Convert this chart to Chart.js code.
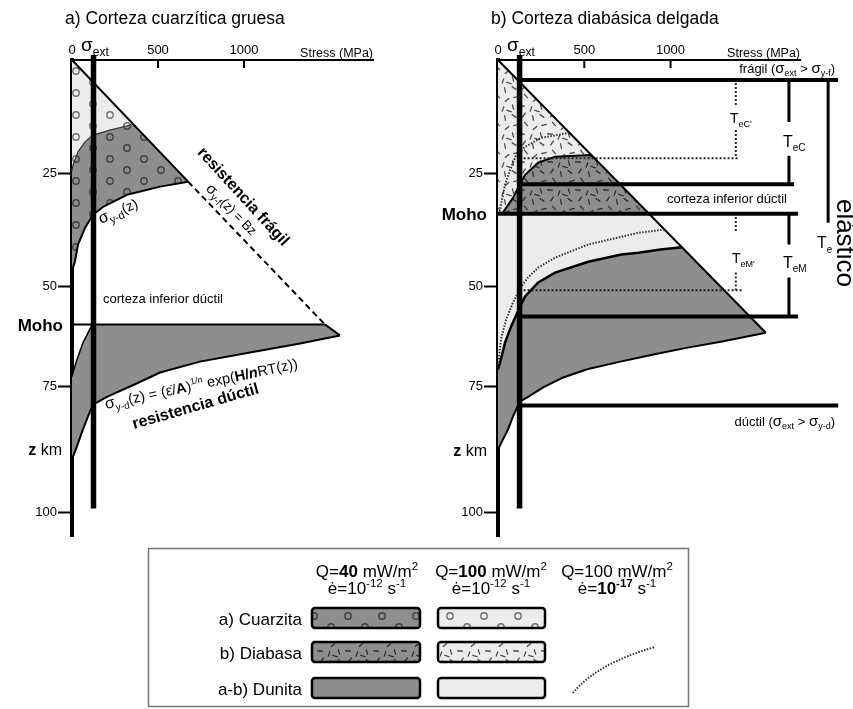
<!DOCTYPE html>
<html><head><meta charset="utf-8">
<script src="https://cdn.jsdelivr.net/npm/chart.js@4.4.1/dist/chart.umd.min.js"></script>
<style>
html,body{margin:0;padding:0;background:#fff;width:853px;height:709px;overflow:hidden}
canvas{position:absolute;display:block}
#ca{left:0;top:0}#cb{left:426px;top:0}#cl{left:0;top:545px}
</style></head><body>
<canvas id="ca" width="426" height="545"></canvas>
<canvas id="cb" width="427" height="545"></canvas>
<canvas id="cl" width="853" height="164"></canvas>
<script>
// ---------- DATA ----------
const stressTicks = [0, 500, 1000];
const depthTickValues = [25, 50, 72.2, 100];
const depthTickLabels = ['25', '50', '75', '100'];
const sigmaExt = 125;
const sigmaExtDepth = [-1.1, 99.2];

// a) Corteza cuarzítica gruesa
const aMoho = 58.5;
const aBrittleStress = [0, 675, 1471, 1558];
const aBrittleDepth  = [0, 26.9, 58.5, 60.9];
const aQuartzHotStress = [357, 221, 122, 76, 35, 6, 0];
const aQuartzHotDepth  = [14.2, 15.5, 16.6, 18.1, 20.3, 23.2, 24.5];
const aQuartzColdStress = [675, 512, 320, 180, 122, 76, 35, 17, 6, 0];
const aQuartzColdDepth  = [26.9, 28.0, 29.8, 32.5, 34.2, 37.1, 40.8, 44.6, 45.9, 47.5];
const aMantleUpperStress = [118, 64, 29, 6, 0];
const aMantleUpperDepth  = [58.5, 62.5, 66.2, 69.1, 70.0];
const aDuniteColdStress = [1558, 1326, 1035, 744, 512, 366, 209, 122, 93, 58, 29, 0];
const aDuniteColdDepth  = [60.9, 62.7, 64.7, 66.7, 69.1, 71.7, 74.4, 76.2, 78.8, 82.3, 85.4, 88.3];

// b) Corteza diabásica delgada
const bMoho = 34.0;
const bBrittleStress = [0, 875, 1552];
const bBrittleDepth  = [0, 34.0, 60.3];
const bDiabaseHotStress = [540, 331, 233, 157, 116, 87, 47, 25];
const bDiabaseHotDepth  = [21.0, 21.4, 22.7, 25.4, 28.3, 30.5, 32.7, 34.0];
const bDiabaseSlowStress = [414, 250, 157, 105, 70, 41, 17, 8];
const bDiabaseSlowDepth  = [16.1, 17.2, 19.2, 21.0, 24.3, 27.6, 32.0, 34.0];
const bDuniteHotStress = [1065, 942, 814, 715, 523, 331, 233, 157, 128, 76, 41, 12, 0];
const bDuniteHotDepth  = [41.4, 41.9, 42.6, 43.0, 44.6, 47.0, 49.2, 52.3, 54.5, 58.9, 62.5, 66.9, 68.4];
const bDuniteSlowStress = [965, 814, 715, 523, 331, 233, 174, 134, 87, 47, 17, 6, 0];
const bDuniteSlowDepth  = [37.5, 38.2, 39.1, 40.8, 43.7, 45.9, 48.1, 50.1, 53.6, 57.4, 61.8, 65.6, 67.5];
const bDuniteColdStress = [1552, 1291, 1099, 901, 709, 517, 378, 262, 169, 128, 87, 58, 29, 0];
const bDuniteColdDepth  = [60.3, 62.3, 63.6, 65.1, 66.7, 68.4, 70.2, 72.4, 74.6, 75.5, 78.8, 81.7, 83.9, 86.1];
// levels: frágil, base TeC, Moho, base TeM, dúctil
const bLevelDepth = [4.4, 27.5, 34.0, 56.7, 76.4];
const bLevelFrom  = [125, 125, 0, 125, 125];
const bLevelTo    = [1971, 1716, 1738, 1738, 1971];
const bDottedDepth = [21.7, 50.9];
const bDottedTo    = [1395, 1419];
const bBracketC  = {stress: 1686, depth: [4.4, 13.7, null, 21.2, 27.5]};
const bBracketM  = {stress: 1686, depth: [34.0, 40.8, null, 48.1, 56.7]};
const bBracketTe = {stress: 1913, depth: [4.4, 36.0, null, 47.9, 76.4]};
const bBracketC2 = {stress: 1378, depth: [5.1, 10.4, null, 15.5, 21.7]};
const bBracketM2 = {stress: 1378, depth: [34.7, 38.0, null, 47.0, 50.9]};

// ---------- HELPERS ----------
const FF = "'Liberation Sans', Arial, Helvetica, sans-serif";
const DARK = '#8e8e8e', LIGHT = '#ececec';
const pts = (xs, ys) => xs.map((x, i) => ({x, y: ys[i]}));
const vpts = (b) => b.depth.map(d => ({x: b.stress, y: d}));
function fnt(s, w, i) { return `${i || 'normal'} ${w || 'normal'} ${s}px ${FF}`; }
function T(t, s, w, dy, i) { return {t, s, w, dy: dy || 0, i}; }
function rich(g, parts, x, y, o) {
  o = o || {};
  g.save();
  g.translate(x, y); g.rotate((o.rot || 0) * Math.PI / 180);
  let w = 0;
  parts.forEach(p => { g.font = fnt(p.s, p.w, p.i); p._w = g.measureText(p.t).width; w += p._w; });
  let cx = o.align === 'center' ? -w / 2 : o.align === 'right' ? -w : 0;
  g.textAlign = 'left'; g.textBaseline = o.baseline || 'alphabetic'; g.fillStyle = o.color || '#000';
  parts.forEach(p => { g.font = fnt(p.s, p.w, p.i); g.fillText(p.t, cx, p.dy); cx += p._w; });
  g.restore();
}
function circlePattern(g, bg, st) {
  const c = document.createElement('canvas'); c.width = 34; c.height = 22;
  const q = c.getContext('2d'); q.fillStyle = bg; q.fillRect(0, 0, 34, 22);
  q.strokeStyle = st; q.lineWidth = 1.4;
  [[8, 5], [25, 16]].forEach(([x, y]) => { q.beginPath(); q.arc(x, y, 3.2, 0, Math.PI * 2); q.stroke(); });
  return g.createPattern(c, 'repeat');
}
const dashMarks = [[4,4,35],[14,3,-55],[23,6,80],[6,13,-15],[16,12,50],[25,16,-40],[3,23,75],[12,22,5],[21,25,-70],[27,27,20]];
function dashPattern(g, bg, st) {
  const c = document.createElement('canvas'); c.width = 28; c.height = 28;
  const q = c.getContext('2d'); q.fillStyle = bg; q.fillRect(0, 0, 28, 28);
  q.strokeStyle = st; q.lineWidth = 1.3; q.lineCap = 'butt';
  dashMarks.forEach(([x, y, a]) => {
    const r = a * Math.PI / 180, dx = Math.cos(r) * 2.8, dy = Math.sin(r) * 2.8;
    for (const ox of [-28, 0, 28]) for (const oy of [-28, 0, 28]) {
      q.beginPath(); q.moveTo(x + ox - dx, y + oy - dy); q.lineTo(x + ox + dx, y + oy + dy); q.stroke();
    }
  });
  return g.createPattern(c, 'repeat');
}
function line(data, o) {
  return Object.assign({type: 'line', data, borderColor: '#000', borderWidth: 2, pointRadius: 0,
    fill: false, tension: 0, clip: false, order: 5, spanGaps: false}, o || {});
}
function area(data, bg) {
  return {type: 'line', data, backgroundColor: bg, borderColor: 'rgba(0,0,0,0)', borderWidth: 0,
    pointRadius: 0, fill: 'shape', tension: 0, clip: false, order: 10};
}
function baseOptions() {
  return {
    responsive: false, animation: false, devicePixelRatio: 1, events: [],
    layout: {padding: {left: 0, top: 0, right: 53, bottom: 8}, autoPadding: false},
    plugins: {legend: {display: false}, tooltip: {enabled: false}, title: {display: false}},
    scales: {
      x: {type: 'linear', position: 'top', min: 0, max: 1750, z: 1,
        afterFit: s => { s.height = 60; },
        afterBuildTicks: s => { s.ticks = stressTicks.map(v => ({value: v})); },
        grid: {drawOnChartArea: false, drawTicks: false},
        border: {display: true, color: '#000', width: 2},
        ticks: {color: '#000', font: {family: FF, size: 13}, padding: 2, maxRotation: 0, autoSkip: false,
          callback: v => String(v)}},
      y: {type: 'linear', position: 'left', reverse: true, min: 0, max: 105.3, z: 1,
        afterFit: s => { s.width = 72; },
        afterBuildTicks: s => { s.ticks = depthTickValues.map(v => ({value: v})); },
        grid: {drawOnChartArea: false, drawTicks: true, tickLength: 14, tickWidth: 2, tickColor: '#000'},
        border: {display: true, color: '#000', width: 4},
        ticks: {color: '#000', font: {family: FF, size: 13}, padding: 1, autoSkip: false,
          callback: (v, i) => depthTickLabels[i]}}
    }
  };
}
function commonAnnot(chart, title) {
  const g = chart.ctx, ca = chart.chartArea, sx = chart.scales.x;
  g.save(); g.strokeStyle = '#000'; g.lineWidth = 2;
  stressTicks.filter(v => v > 0).forEach(v => {
    const x = sx.getPixelForValue(v);
    g.beginPath(); g.moveTo(x, ca.top); g.lineTo(x, ca.top + 8); g.stroke();
  });
  g.restore();
  rich(g, [T(title, 17.5)], ca.left - 7, 24);
  rich(g, [T('σ', 19), T('ext', 12, 'normal', 5)], ca.left + 9, 51);
  rich(g, [T('Stress (MPa)', 12.5)], ca.right, 57, {align: 'right'});
}

// ---------- PANEL A ----------
(function () {
  const cv = document.getElementById('ca'), g = cv.getContext('2d');
  const hot = pts(aQuartzHotStress, aQuartzHotDepth);
  const cold = pts(aQuartzColdStress, aQuartzColdDepth);
  const mUp = pts(aMantleUpperStress, aMantleUpperDepth);
  const mCold = pts(aDuniteColdStress, aDuniteColdDepth);
  const polyLight = [{x: 0, y: 0}, ...hot];
  const polyDark = [...cold, ...hot.slice().reverse()];
  const polyMantle = [{x: aMantleUpperStress[0], y: aMoho}, {x: aBrittleStress[2], y: aMoho}, ...mCold, ...mUp.slice().reverse()];
  const datasets = [
    area(polyLight, circlePattern(g, LIGHT, '#707070')),
    area(polyDark, circlePattern(g, DARK, '#404040')),
    area(polyMantle, DARK),
    line(hot, {borderWidth: 1.2, borderColor: '#333'}),
    line(cold, {borderWidth: 2}),
    line(pts(aBrittleStress, aBrittleDepth), {borderWidth: 2,
      segment: {borderDash: c => c.p0DataIndex === 1 ? [6, 4] : undefined}}),
    line([{x: 0, y: aMoho}, {x: aBrittleStress[2], y: aMoho}], {borderWidth: 2}),
    line(mUp, {borderWidth: 1.5}),
    line(mCold, {borderWidth: 2}),
    line(sigmaExtDepth.map(d => ({x: sigmaExt, y: d})), {borderWidth: 5.5, order: 1})
  ];
  new Chart(cv, {type: 'line', data: {datasets}, options: baseOptions(),
    plugins: [{id: 'annA', afterDraw(chart) {
      const g = chart.ctx;
      commonAnnot(chart, 'a) Corteza cuarzítica gruesa');
      rich(g, [T('Moho', 17, 'bold')], 63, 331, {align: 'right'});
      rich(g, [T('z', 16, 'bold'), T(' km', 16)], 62, 455, {align: 'right'});
      rich(g, [T('resistencia frágil', 16, 'bold')], 243, 197, {align: 'center', rot: 47.5, baseline: 'middle'});
      rich(g, [T('σ', 15), T('y-f', 10, 'normal', 4), T('(z) = Bz', 13)], 231, 210, {align: 'center', rot: 46, baseline: 'middle'});
      rich(g, [T('σ', 16), T('y-d', 11, 'normal', 4), T('(z)', 14)], 101, 224, {rot: -24});
      rich(g, [T('corteza inferior dúctil', 13)], 103, 303);
      rich(g, [T('σ', 16), T('y-d', 10, 'normal', 4), T('(z) = (ε̇/', 14.5), T('A', 14.5, 'bold'), T(')', 14.5),
        T('1/n', 9, 'normal', -6), T(' exp(', 14.5), T('H/', 14.5, 'bold'), T('n', 14.5, 'bold', 0, 'italic'), T('RT(z))', 14.5)],
        106, 409, {rot: -12});
      rich(g, [T('resistencia dúctil', 16, 'bold')], 134, 429, {rot: -16});
    }}]
  });
})();

// ---------- PANEL B ----------
(function () {
  const cv = document.getElementById('cb'), g = cv.getContext('2d');
  const dHot = pts(bDiabaseHotStress, bDiabaseHotDepth);
  const dSlow = pts(bDiabaseSlowStress, bDiabaseSlowDepth);
  const uHot = pts(bDuniteHotStress, bDuniteHotDepth);
  const uSlow = pts(bDuniteSlowStress, bDuniteSlowDepth);
  const uCold = pts(bDuniteColdStress, bDuniteColdDepth);
  const brittleAtMoho = {x: bBrittleStress[1], y: bMoho};
  const polyLightD = [{x: 0, y: 0}, ...dHot, {x: 0, y: bMoho}];
  const polyDarkD = [dHot[0], brittleAtMoho, ...dHot.slice().reverse()];
  const polyLightU = [{x: 0, y: bMoho}, brittleAtMoho, ...uHot];
  const polyDarkU = [...uCold, ...uHot.slice().reverse()];
  const datasets = [
    area(polyLightD, dashPattern(g, LIGHT, '#4a4a4a')),
    area(polyDarkD, dashPattern(g, DARK, '#2e2e2e')),
    area(polyLightU, LIGHT),
    area(polyDarkU, DARK),
    line(dHot, {borderWidth: 2}),
    line(dSlow, {borderWidth: 2, borderColor: '#333', borderDash: [1.5, 1.5]}),
    line(uHot, {borderWidth: 2.5}),
    line(uSlow, {borderWidth: 2, borderColor: '#333', borderDash: [1.5, 1.5]}),
    line(uCold, {borderWidth: 2}),
    line(pts(bBrittleStress, bBrittleDepth), {borderWidth: 2}),
    ...bLevelDepth.map((d, i) => line([{x: bLevelFrom[i], y: d}, {x: bLevelTo[i], y: d}], {borderWidth: 4, order: 2})),
    ...bDottedDepth.map((d, i) => line([{x: sigmaExt, y: d}, {x: bDottedTo[i], y: d}], {borderWidth: 2, borderColor: '#222', borderDash: [2, 2], order: 3})),
    line(vpts(bBracketC), {borderWidth: 3, order: 2}),
    line(vpts(bBracketM), {borderWidth: 3, order: 2}),
    line(vpts(bBracketTe), {borderWidth: 3, order: 2}),
    line(vpts(bBracketC2), {borderWidth: 2, borderColor: '#222', borderDash: [2, 2], order: 3}),
    line(vpts(bBracketM2), {borderWidth: 2, borderColor: '#222', borderDash: [2, 2], order: 3}),
    line(sigmaExtDepth.map(d => ({x: sigmaExt, y: d})), {borderWidth: 5.5, order: 1})
  ];
  new Chart(cv, {type: 'line', data: {datasets}, options: baseOptions(),
    plugins: [{id: 'annB', afterDraw(chart) {
      const g = chart.ctx;
      commonAnnot(chart, 'b) Corteza diabásica delgada');
      rich(g, [T('Moho', 17, 'bold')], 61, 220, {align: 'right'});
      rich(g, [T('z', 16, 'bold'), T(' km', 16)], 61, 456, {align: 'right'});
      rich(g, [T('frágil (', 13), T('σ', 15), T('ext', 9, 'normal', 3), T(' > ', 13), T('σ', 15), T('y-f', 9, 'normal', 3), T(')', 13)], 409, 73, {align: 'right'});
      rich(g, [T('dúctil (', 13), T('σ', 15), T('ext', 9, 'normal', 3), T(' > ', 13), T('σ', 15), T('y-d', 9, 'normal', 3), T(')', 13)], 409, 426, {align: 'right'});
      rich(g, [T('corteza inferior dúctil', 13)], 241, 203);
      rich(g, [T('T', 14), T("eC'", 9, 'normal', 4)], 304, 123);
      rich(g, [T('T', 16), T('eC', 10, 'normal', 4)], 357, 147);
      rich(g, [T('T', 14), T("eM'", 9, 'normal', 4)], 306, 263);
      rich(g, [T('T', 16), T('eM', 10, 'normal', 4)], 357, 268);
      rich(g, [T('T', 16), T('e', 10, 'normal', 5)], 391, 248);
      rich(g, [T('elástico', 26)], 418, 243, {align: 'center', rot: 90, baseline: 'middle'});
    }}]
  });
})();

// ---------- LEGEND ----------
(function () {
  const c = document.getElementById('cl'), g = c.getContext('2d');
  g.fillStyle = '#fff'; g.fillRect(0, 0, 853, 164);
  g.strokeStyle = '#777'; g.lineWidth = 1.5; g.strokeRect(148.5, 3.5, 540, 158);
  const cols = [367, 491, 617];
  const S = 17, s2 = 11.5;
  rich(g, [T('Q=', S), T('40', S, 'bold'), T(' mW/m', S), T('2', s2, 'normal', -7)], cols[0], 32, {align: 'center'});
  rich(g, [T('ė=10', S), T('-12', s2, 'normal', -7), T(' s', S), T('-1', s2, 'normal', -7)], cols[0], 49, {align: 'center'});
  rich(g, [T('Q=', S), T('100', S, 'bold'), T(' mW/m', S), T('2', s2, 'normal', -7)], cols[1], 32, {align: 'center'});
  rich(g, [T('ė=10', S), T('-12', s2, 'normal', -7), T(' s', S), T('-1', s2, 'normal', -7)], cols[1], 49, {align: 'center'});
  rich(g, [T('Q=100 mW/m', S), T('2', s2, 'normal', -7)], cols[2], 32, {align: 'center'});
  rich(g, [T('ė=', S), T('10', S, 'bold'), T('-17', s2, 'bold', -7), T(' s', S), T('-1', s2, 'normal', -7)], cols[2], 49, {align: 'center'});
  const rowsY = [63, 97, 133];
  const labels = ['a) Cuarzita', 'b) Diabasa', 'a-b) Dunita'];
  labels.forEach((l, i) => rich(g, [T(l, S)], 302, rowsY[i] + 17, {align: 'right'}));
  const fills = [
    [circlePattern(g, DARK, '#404040'), circlePattern(g, LIGHT, '#707070')],
    [dashPattern(g, DARK, '#2e2e2e'), dashPattern(g, LIGHT, '#4a4a4a')],
    [DARK, LIGHT]
  ];
  const xs = [[312, 108], [438, 107]];
  fills.forEach((row, r) => row.forEach((f, k) => {
    g.beginPath(); g.roundRect(xs[k][0], rowsY[r], xs[k][1], 20, 3);
    g.fillStyle = f; g.fill(); g.lineWidth = 2.5; g.strokeStyle = '#000'; g.stroke();
  }));
  g.save(); g.setLineDash([1.5, 1.5]); g.lineWidth = 2; g.strokeStyle = '#333';
  g.beginPath(); g.moveTo(573, 148); g.quadraticCurveTo(596, 119, 655, 102); g.stroke(); g.restore();
})();
</script></body></html>
